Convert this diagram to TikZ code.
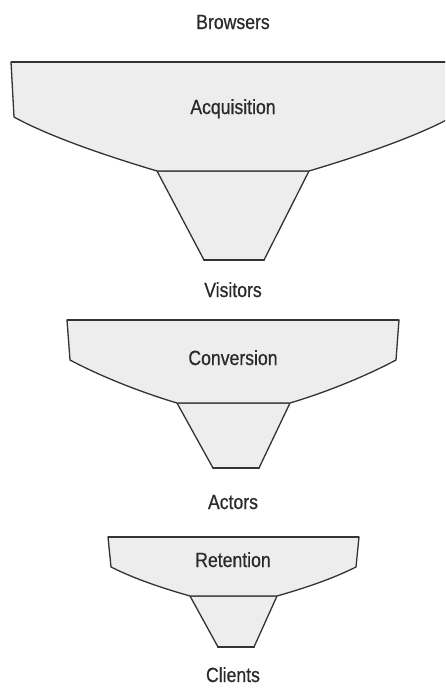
\documentclass[tikz,border=0pt]{standalone}
\usepackage{fontspec}
\setmainfont[FakeStretch=0.86,FakeBold=0.6]{Liberation Sans}
\definecolor{fun}{HTML}{EDEDED}
\definecolor{edge}{HTML}{333333}
\definecolor{txt}{HTML}{2A2A2A}
\begin{document}
\begin{tikzpicture}[x=1pt,y=-1pt,
  body/.style={fill=fun,draw=edge,line width=1.3pt,line join=round},
  rim/.style={draw=edge,line width=2pt},
  lip/.style={draw=edge,line width=2.4pt,line cap=round},
  lbl/.style={anchor=base,text=txt,inner sep=0pt,font=\fontsize{20.5}{24}\selectfont}]
\useasboundingbox (0,0) rectangle (445,688);
\fill[white] (0,0) rectangle (445,688);
\begin{scope}
\clip (0,0) rectangle (445,688);
% funnel 1
\coordinate (a1) at (11,62); \coordinate (b1) at (455,62);
\coordinate (c1) at (14,117); \coordinate (d1) at (452,117);
\coordinate (e1) at (157,171); \coordinate (f1) at (309,171);
\coordinate (g1) at (204,260); \coordinate (h1) at (264,260);
\path[body] (e1) -- (g1) -- (h1) -- (f1) -- cycle;
\path[body] (a1) -- (c1) .. controls (50,137) and (110,157) .. (e1) -- (f1)
  .. controls (356,157) and (416,137) .. (d1) -- (b1) -- cycle;
\draw[rim] (a1) -- (b1);
\draw[lip] (g1) -- (h1);
\end{scope}
% funnel 2
\coordinate (a2) at (67,320); \coordinate (b2) at (399,320);
\coordinate (c2) at (70,360); \coordinate (d2) at (396,360);
\coordinate (e2) at (177,403); \coordinate (f2) at (290,403);
\coordinate (g2) at (213,468); \coordinate (h2) at (259,468);
\path[body] (e2) -- (g2) -- (h2) -- (f2) -- cycle;
\path[body] (a2) -- (c2) .. controls (100,376) and (140,392) .. (e2) -- (f2)
  .. controls (327,392) and (366,376) .. (d2) -- (b2) -- cycle;
\draw[rim] (a2) -- (b2);
\draw[lip] (g2) -- (h2);
% funnel 3
\coordinate (a3) at (108,537); \coordinate (b3) at (359,537);
\coordinate (c3) at (111,567); \coordinate (d3) at (356,567);
\coordinate (e3) at (190,596); \coordinate (f3) at (277,596);
\coordinate (g3) at (218,647); \coordinate (h3) at (254,647);
\path[body] (e3) -- (g3) -- (h3) -- (f3) -- cycle;
\path[body] (a3) -- (c3) .. controls (135,579) and (162,588) .. (e3) -- (f3)
  .. controls (305,588) and (332,579) .. (d3) -- (b3) -- cycle;
\draw[rim] (a3) -- (b3);
\draw[lip] (g3) -- (h3);
% labels
\node[lbl] (browsers) at (233,29) {Browsers};
\node[lbl] (acq) at (233,114) {Acquisition};
\node[lbl] (visitors) at (233,297) {Visitors};
\node[lbl] (conv) at (233,365) {Conversion};
\node[lbl] (actors) at (233,509) {Actors};
\node[lbl] (ret) at (233,567) {Retention};
\node[lbl] (clients) at (233,682) {Clients};
\end{tikzpicture}
\end{document}
